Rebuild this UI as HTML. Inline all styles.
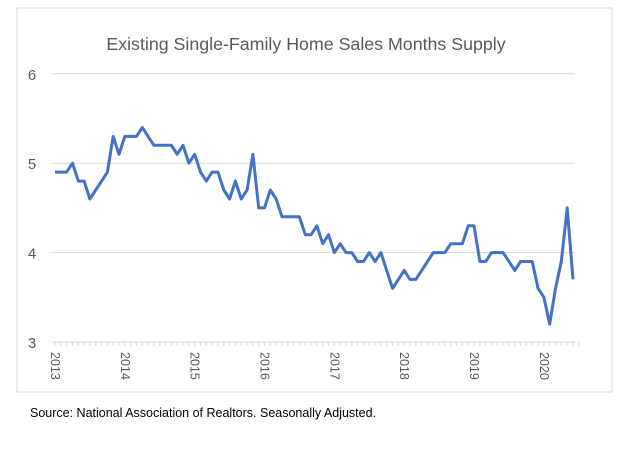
<!DOCTYPE html>
<html><head><meta charset="utf-8"><style>
body{margin:0;background:#fff;width:619px;height:447px;overflow:hidden;font-family:"Liberation Sans",sans-serif}
</style></head><body>
<svg id="chart" width="619" height="447" font-family="Liberation Sans, sans-serif">
<rect x="17" y="8" width="595" height="384" fill="none" stroke="#d9d9d9"/>
<text x="306" y="50" text-anchor="middle" font-size="17.8" fill="#595959">Existing Single-Family Home Sales Months Supply</text>
<g id="grid"></g><g id="axis"></g><g id="series"></g>
<text x="30" y="417" font-size="12.5" fill="#000">Source: National Association of Realtors.  Seasonally Adjusted.</text>
</svg>
<script>
const years=["2013","2014","2015","2016","2017","2018","2019","2020"];
const yTicks=[3,4,5,6];
const supply=[4.9,4.9,4.9,5.0,4.8,4.8,4.6,4.7,4.8,4.9,5.3,5.1,
5.3,5.3,5.3,5.4,5.3,5.2,5.2,5.2,5.2,5.1,5.2,5.0,
5.1,4.9,4.8,4.9,4.9,4.7,4.6,4.8,4.6,4.7,5.1,4.5,
4.5,4.7,4.6,4.4,4.4,4.4,4.4,4.2,4.2,4.3,4.1,4.2,
4.0,4.1,4.0,4.0,3.9,3.9,4.0,3.9,4.0,3.8,3.6,3.7,
3.8,3.7,3.7,3.8,3.9,4.0,4.0,4.0,4.1,4.1,4.1,4.3,
4.3,3.9,3.9,4.0,4.0,4.0,3.9,3.8,3.9,3.9,3.9,3.6,
3.5,3.2,3.6,3.9,4.5,3.7];
const ns="http://www.w3.org/2000/svg";
const x0=55,dx=5.82,xRight=575;
const X=i=>x0+i*dx;
const Y=v=>342-(v-3)*89.4;
function mk(t,a,p){const e=document.createElementNS(ns,t);for(const k in a)e.setAttribute(k,a[k]);p.appendChild(e);return e;}
const grid=document.getElementById('grid'),axis=document.getElementById('axis'),series=document.getElementById('series');
yTicks.forEach(v=>{
 if(v>3){const l=mk('line',{x1:52,x2:xRight,y1:Y(v),y2:Y(v),stroke:'#d9d9d9','stroke-width':1},grid);
 
 }
 const t=mk('text',{x:32,y:Y(v)+6,'text-anchor':'middle','font-size':15,fill:'#595959'},axis);
 t.textContent=v;
 
 
});
const base=mk('line',{x1:52,x2:xRight,y1:342,y2:342,stroke:'#d9d9d9','stroke-width':1},axis);


for(let i=0;i<=supply.length;i++){
 const tk=mk('line',{x1:X(i),x2:X(i),y1:342,y2:346,stroke:'#d9d9d9','stroke-width':1},axis);
 
 
}
years.forEach((y,k)=>{
 const xx=X(k*12);
 const t=mk('text',{x:0,y:0,'font-size':12.5,fill:'#595959',transform:`translate(${xx-4},352) rotate(90)`},axis);
 t.textContent=y;
 
 
});
const pts=supply.map((v,i)=>X(i).toFixed(1)+','+Y(v).toFixed(1)).join(' ');
const pl=mk('polyline',{points:pts,fill:'none',stroke:'#4472c4','stroke-width':3,'stroke-linejoin':'round'},series);


</script>
</body></html>
